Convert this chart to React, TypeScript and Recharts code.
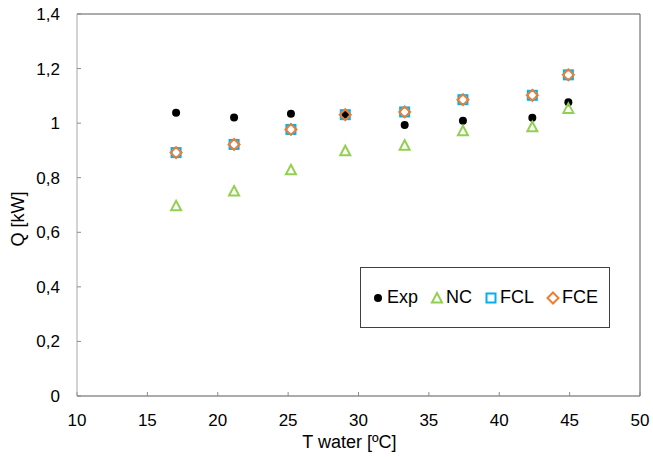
import {
  ScatterChart, Scatter, XAxis, YAxis, Legend, ReferenceLine
} from 'recharts'

const tempWater = [17.04, 21.16, 25.2, 29.06, 33.28, 37.42, 42.35, 44.91];
const qExp = [1.038, 1.021, 1.034, 1.031, 0.993, 1.009, 1.02, 1.077];
const qNC = [0.697, 0.751, 0.829, 0.899, 0.919, 0.972, 0.987, 1.054];
const qFCL = [0.892, 0.922, 0.977, 1.031, 1.041, 1.086, 1.102, 1.177];
const qFCE = [0.892, 0.922, 0.977, 1.031, 1.041, 1.086, 1.102, 1.177];

const xTicks = [10, 15, 20, 25, 30, 35, 40, 45, 50];
const yTicks = [0, 0.2, 0.4, 0.6, 0.8, 1, 1.2, 1.4];

const FONT = 'Liberation Sans, Arial, sans-serif';

const toPoints = (ys: number[]) => tempWater.map((t, i) => ({ t, q: ys[i] }));

const fmtComma = (v: number) => String(Math.round(v * 10) / 10).replace('.', ',');

const Dot = ({ cx, cy }: any) => <circle cx={cx} cy={cy} r={4} fill="#000" />;

const Tri = ({ cx, cy }: any) => (
  <polygon
    points={`${cx},${cy - 5} ${cx + 5},${cy + 4.5} ${cx - 5},${cy + 4.5}`}
    fill="none" stroke="#92D050" strokeWidth={2} />
);

const Sq = ({ cx, cy }: any) => (
  <rect x={cx - 4.5} y={cy - 4.5} width={9} height={9} fill="none" stroke="#00B0F0" strokeWidth={2} />
);

const Dia = ({ cx, cy }: any) => (
  <polygon
    points={`${cx},${cy - 5.5} ${cx + 5.5},${cy} ${cx},${cy + 5.5} ${cx - 5.5},${cy}`}
    fill="none" stroke="#ED7D31" strokeWidth={2} />
);

const series = [
  { name: 'Exp', data: qExp, Shape: Dot },
  { name: 'NC', data: qNC, Shape: Tri },
  { name: 'FCL', data: qFCL, Shape: Sq },
  { name: 'FCE', data: qFCE, Shape: Dia },
];

const LegendBox = () => (
  <div style={{ display: 'flex', alignItems: 'center', height: '100%', paddingLeft: 10, fontFamily: FONT, fontSize: 18, color: '#000' }}>
    {series.map(({ name, Shape }) => (
      <div key={name} style={{ display: 'flex', alignItems: 'center', marginRight: 12 }}>
        <svg width={14} height={14} style={{ marginRight: 2 }}>
          <Shape cx={7} cy={7} />
        </svg>
        <span>{name}</span>
      </div>
    ))}
  </div>
);

const App = () => (
  <div style={{ position: 'absolute', left: 0, top: 0, background: '#fff' }}>
    <ScatterChart width={653} height={457} margin={{ top: 14, right: 13, bottom: 0, left: 0 }}>
      <XAxis
        type="number" dataKey="t" domain={[10, 50]} ticks={xTicks} interval={0}
        height={61} tickSize={-4} tickMargin={22}
        axisLine={{ stroke: '#595959' }} tickLine={{ stroke: '#8c8c8c' }}
        tick={{ fill: '#000', fontSize: 17, fontFamily: FONT }}
        label={{ value: 'T water [ºC]', position: 'insideBottom', offset: 9, dx: -9, fill: '#000', fontSize: 18, fontFamily: FONT }}
      />
      <YAxis
        type="number" dataKey="q" domain={[0, 1.4]} ticks={yTicks} interval={0}
        width={77} tickSize={-4} tickMargin={21} tickFormatter={fmtComma}
        axisLine={{ stroke: '#a6a6a6' }} tickLine={{ stroke: '#8c8c8c' }}
        tick={{ fill: '#000', fontSize: 17, fontFamily: FONT }}
        label={{ value: 'Q [kW]', angle: -90, position: 'center', dx: -21, dy: 14, fill: '#000', fontSize: 18, fontFamily: FONT }}
      />
      <ReferenceLine y={1.4} stroke="#595959" />
      <ReferenceLine x={50} stroke="#595959" />
      {series.map(({ name, data, Shape }) => (
        <Scatter key={name} name={name} data={toPoints(data)} isAnimationActive={false}
          shape={(p: any) => <Shape cx={p.cx} cy={p.cy} />} />
      ))}
      <Legend
        layout="horizontal" verticalAlign="middle" align="center"
        content={() => <LegendBox />}
        wrapperStyle={{ position: 'absolute', left: 360, top: 267, width: 250, height: 61, border: '1px solid #404040', boxSizing: 'border-box', background: '#fff' }}
      />
    </ScatterChart>
  </div>
);

export default App
